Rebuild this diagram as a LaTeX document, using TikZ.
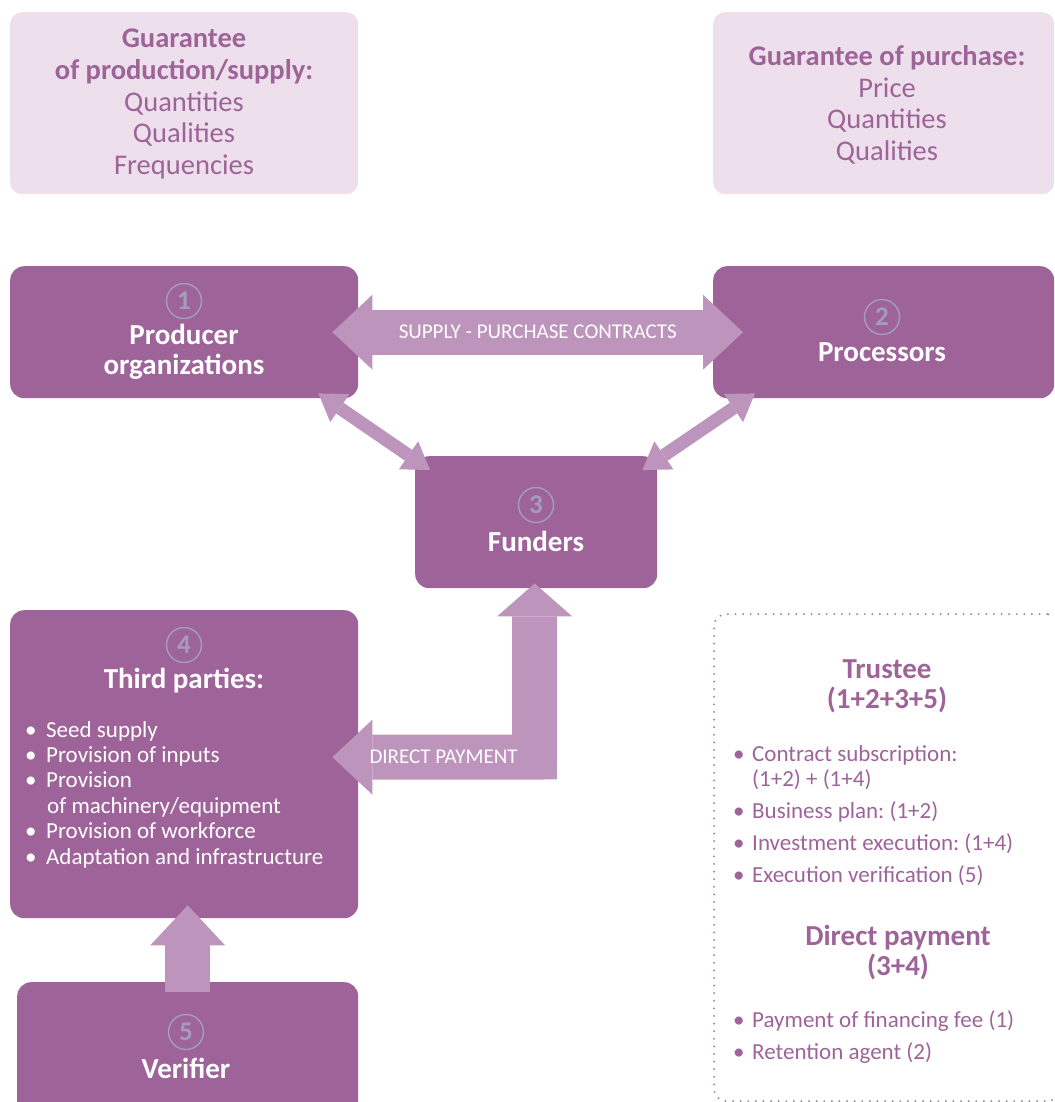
\documentclass[tikz,border=0pt]{standalone}
\usepackage{fontspec}
\setmainfont{Carlito}
\usetikzlibrary{arrows.meta,calc}
\definecolor{plum}{HTML}{9E6499}
\definecolor{lilac}{HTML}{BD94BB}
\definecolor{blush}{HTML}{EDDFEB}
\definecolor{slate}{HTML}{A59CBB}
\definecolor{dotgray}{HTML}{8C8FB3}
\newcommand\headfont{\fontsize{29}{30}\selectfont\bfseries}
\newcommand\notefont{\fontsize{28.5}{31.6}\selectfont}
\newcommand\listfont{\fontsize{23}{25.4}\selectfont\frenchspacing}
\newcommand\itm{\makebox[21pt][l]{\textbullet}}
\newcommand\ritm{\makebox[19pt][l]{\textbullet}}
\tikzset{
  actor/.style={fill=plum,rounded corners=14pt,anchor=north west,inner sep=0pt},
  note/.style={fill=blush,rounded corners=12pt,anchor=north west,inner sep=0pt},
  num/.style={circle,draw=slate,line width=1.4pt,text=slate,inner sep=0pt,minimum size=35pt,
    font=\fontsize{27}{27}\selectfont\bfseries},
  head/.style={text=white,font=\headfont,align=center},
  bigarrow/.style={draw=lilac,line width=45pt,line join=miter},
  thinarrow/.style={draw=lilac,line width=13pt,{Triangle[length=26pt,width=34pt,line width=0pt]}-{Triangle[length=26pt,width=34pt,line width=0pt]}},
  arrowlabel/.style={text=white,font=\fontsize{21}{22}\selectfont}
}
\begin{document}
\begin{tikzpicture}[x=1pt,y=-1pt]
\useasboundingbox(0,0)rectangle(1054,1102);
\clip(0,0)rectangle(1054,1102);
% guarantees on top
\node[note,minimum width=348pt,minimum height=182pt](gsupply)at(10,12){};
\node[note,minimum width=341pt,minimum height=182pt](gbuy)at(713,12){};
\node[text=plum,align=center,font=\notefont](gsupplytxt)at(184,104)
  {\textbf{Guarantee}\\\textbf{of production/supply:}\\Quantities\\Qualities\\Frequencies};
\node[text=plum,align=center,font=\notefont](gbuytxt)at(887,105)
  {\textbf{Guarantee of purchase:}\\Price\\Quantities\\Qualities};
% actors
\node[actor,minimum width=348pt,minimum height=132pt](prod)at(10,266){};
\node[actor,minimum width=341pt,minimum height=132pt](proc)at(713,266){};
\node[actor,minimum width=242pt,minimum height=132pt](fund)at(415,456){};
\node[actor,minimum width=348pt,minimum height=308pt](third)at(10,610){};
\node[actor,minimum width=341pt,minimum height=140pt](verif)at(17,982){};
\node[num](n1)at(184,301){1};
\node[head](prodtxt)at(184,352){Producer\\organizations};
\node[num](n2)at(882,317){2};
\node[head](proctxt)at(882,352){Processors};
\node[num](n3)at(536,505){3};
\node[head](fundtxt)at(536,541){Funders};
\node[num](n4)at(184,645){4};
\node[head](thirdtxt)at(184,681){Third parties:};
\node[num](n5)at(186,1032){5};
\node[head](veriftxt)at(186,1068){Verifier};
\node[text=white,align=left,font=\listfont,anchor=north west,inner sep=0pt](thirdlist)at(25,721)
  {\itm Seed supply\\\itm Provision of inputs\\\itm Provision\\\hspace*{22pt}of machinery/equipment\\
   \itm Provision of workforce\\\itm Adaptation and infrastructure};
% arrows
\draw[bigarrow,{Triangle[length=40pt,width=75pt,line width=0pt]}-{Triangle[length=40pt,width=75pt,line width=0pt]}]
  ($(prod.east)+(-26,0)$)--node[arrowlabel](supplylbl){SUPPLY - PURCHASE CONTRACTS}($(proc.west)+(30,0)$);
\draw[thinarrow]($(prod.south east)+(-40,-5)$)--($(fund.north west)+(15,14)$);
\draw[thinarrow]($(proc.south west)+(42,-5)$)--($(fund.north east)+(-15,14)$);
\draw[bigarrow,{Triangle[length=40pt,width=75pt,line width=0pt]}-{Triangle[length=33pt,width=75pt,line width=0pt]}]
  ($(third.east)+(-26,-7)$)--node[arrowlabel,pos=.55](paylbl){DIRECT PAYMENT}(534.5,757)--($(fund.south)+(-1.5,-5)$);
\draw[bigarrow,-{Triangle[length=40pt,width=75pt,line width=0pt]}]($(verif.north)+(0,10)$)--($(third.south)+(3.5,-13)$);
% trustee frame
\node[draw=dotgray,line width=2.2pt,dash pattern=on 0pt off 7.6pt,line cap=round,rounded corners=12pt,
  anchor=north west,minimum width=345pt,minimum height=487pt,inner sep=0pt](frame)at(713,613){};
\node[text=plum,font=\headfont,align=center](trusttxt)at(887,686){Trustee\\(1+2+3+5)};
\node[text=plum,align=left,font=\listfont,anchor=north west,inner sep=0pt](trustlist)at(733,745)
  {\ritm Contract subscription:\\\hspace*{19pt}(1+2) + (1+4)\\[6.6pt]\ritm Business plan: (1+2)\\[6.6pt]
   \ritm Investment execution: (1+4)\\[6.6pt]\ritm Execution verification (5)};
\node[text=plum,font=\headfont,align=center](paytxt)at(898,953){Direct payment\\(3+4)};
\node[text=plum,align=left,font=\listfont,anchor=north west,inner sep=0pt](paylist)at(733,1010)
  {\ritm Payment of financing fee (1)\\[6.6pt]\ritm Retention agent (2)};
\end{tikzpicture}
\end{document}
